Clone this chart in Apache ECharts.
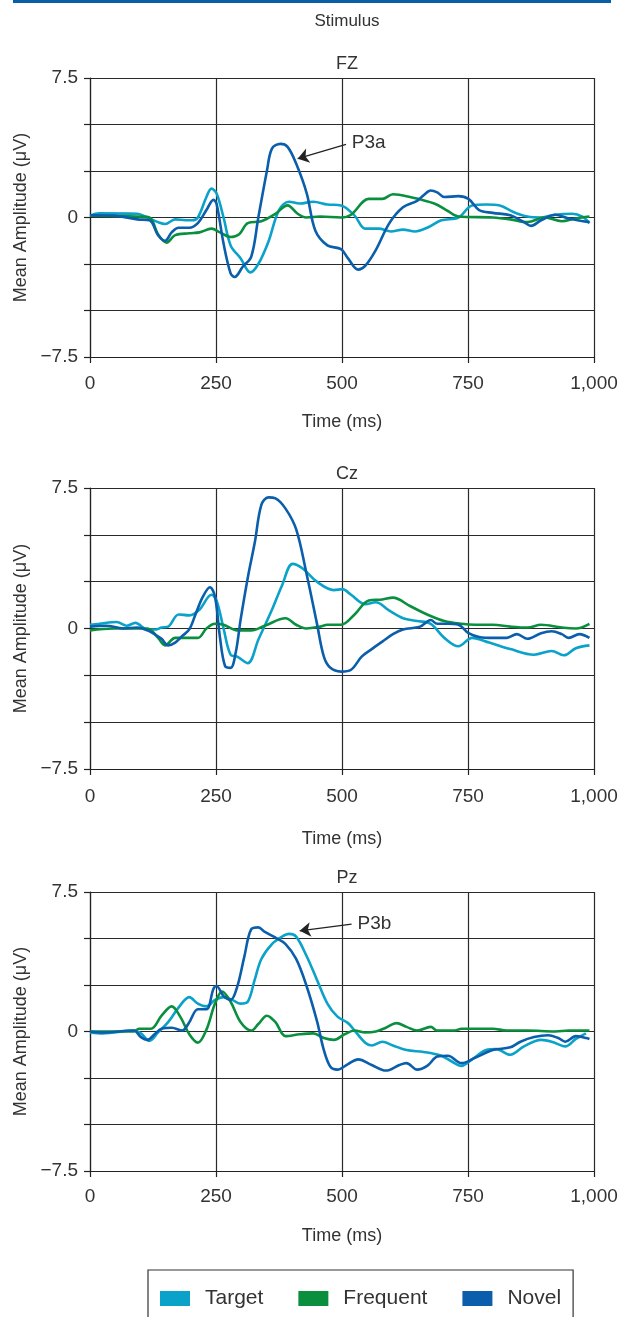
<!DOCTYPE html>
<html>
<head>
<meta charset="utf-8">
<script src="https://cdn.jsdelivr.net/npm/echarts@6/dist/echarts.min.js"></script>
<style>
html, body { margin: 0; padding: 0; background: #fff; }
#main { width: 622px; height: 1317px; }
</style>
</head>
<body>
<div id="main"></div>
<script>
var panels = ['FZ', 'Cz', 'Pz'];
var names = ['Target', 'Frequent', 'Novel'];
var colors = ['#0ba2ca', '#0a8f3f', '#0a5eab'];
var xTicks = [0, 250, 500, 750, 1000];
var yShown = [7.5, 0, -7.5];

// [ms, µV]
var fzTarget = [[0,0.1],[18,0.22],[94,0.2],[114,0],[135,-0.25],[149,-0.35],[169,-0.1],[190,-0.15],[203,-0.15],[214,0],[231,1.1],[241,1.55],[251,1.3],[265,0],[279,-1.5],[299,-2.2],[318,-2.95],[334,-2.5],[354,-1.3],[375,0.4],[395,0.85],[416,0.75],[443,0.85],[471,0.7],[498,0.65],[525,0.1],[546,-0.6],[573,-0.6],[597,-0.75],[621,-0.65],[645,-0.75],[669,-0.55],[697,-0.15],[731,0],[758,0.65],[786,0.7],[813,0.65],[840,0.3],[868,0.05],[895,0],[923,0.15],[957,0.2],[977,0.05],[991,-0.3]];
var fzFrequent = [[0,0.1],[94,0.05],[118,0],[135,-0.9],[152,-1.35],[169,-0.95],[197,-0.85],[217,-0.8],[241,-0.6],[258,-0.8],[279,-1.05],[296,-0.9],[313,-0.3],[340,-0.2],[368,0.2],[392,0.65],[412,0.2],[429,0],[457,0.05],[498,0],[518,0.15],[553,1.0],[580,1.0],[601,1.25],[635,1.1],[683,0.75],[710,0.35],[731,0.05],[799,0],[834,-0.1],[868,-0.25],[902,0],[936,-0.2],[963,-0.05],[991,0.05]];
var fzNovel = [[0,0.12],[46,0.1],[94,-0.1],[118,-0.15],[135,-0.95],[149,-1.25],[162,-0.8],[176,-0.55],[197,-0.55],[214,-0.3],[231,0.4],[245,0.95],[251,0.75],[265,-1.4],[279,-3.0],[287,-3.2],[303,-2.65],[320,-2.1],[334,0],[351,2.5],[361,3.7],[378,3.96],[392,3.8],[409,2.9],[430,1.3],[447,-0.7],[471,-1.5],[498,-1.7],[512,-2.2],[532,-2.8],[546,-2.6],[567,-1.75],[594,-0.3],[621,0.55],[649,0.9],[662,1.2],[676,1.45],[689,1.35],[703,1.1],[731,1.15],[751,1.0],[772,0.4],[799,0.25],[834,0.12],[861,-0.25],[875,-0.45],[895,-0.15],[923,0.15],[950,-0.05],[991,-0.25]];

var czTarget = [[0,0.2],[18,0.25],[53,0.35],[73,0.15],[90,0.3],[114,-0.05],[132,-0.05],[142,0.05],[155,0.1],[176,0.75],[197,0.7],[217,1.0],[241,1.8],[251,1.5],[265,0],[279,-1.4],[292,-1.5],[313,-1.85],[334,-0.6],[361,1.0],[381,2.3],[402,3.45],[422,3.2],[450,2.5],[484,2.05],[501,2.1],[518,1.8],[546,1.3],[567,1.4],[594,0.95],[621,0.55],[649,0.4],[676,0.25],[703,-0.5],[731,-0.95],[758,-0.5],[792,-0.75],[834,-1.1],[881,-1.4],[916,-1.2],[940,-1.43],[964,-1.05],[991,-0.9]];
var czFrequent = [[0,-0.1],[46,0],[114,0],[135,-0.5],[149,-0.9],[169,-0.5],[190,-0.5],[214,-0.5],[231,0],[248,0.25],[265,0.2],[292,-0.1],[320,-0.1],[347,0.15],[388,0.55],[409,0.2],[429,0],[457,0.1],[471,0.2],[498,0.2],[525,0.75],[553,1.5],[580,1.55],[601,1.65],[635,1.2],[669,0.75],[703,0.4],[737,0.25],[765,0.2],[799,0.2],[834,0.1],[868,0.05],[895,0.2],[936,0.05],[964,0],[991,0.25]];
var czNovel = [[0,0.1],[32,0.15],[66,0],[94,0.05],[114,-0.1],[128,-0.3],[142,-0.55],[155,-0.9],[169,-0.75],[183,-0.4],[197,-0.05],[210,0.8],[224,1.7],[238,2.2],[248,1.7],[258,-0.5],[268,-2.0],[279,-2.1],[289,-1.3],[299,0.5],[313,2.7],[327,4.6],[340,6.6],[354,7.0],[368,6.95],[388,6.4],[409,5.3],[429,3.0],[450,0.3],[464,-1.5],[477,-2.1],[498,-2.3],[518,-2.2],[539,-1.5],[559,-1.1],[580,-0.7],[601,-0.3],[621,-0.05],[655,0.1],[676,0.45],[689,0.25],[710,0.25],[731,0.2],[751,-0.25],[772,-0.45],[799,-0.5],[827,-0.5],[847,-0.3],[868,-0.55],[895,-0.25],[916,-0.15],[936,-0.3],[950,-0.5],[971,-0.3],[991,-0.5]];

var pzTarget = [[0,-0.05],[25,-0.1],[87,0.05],[101,-0.1],[118,-0.5],[135,-0.05],[155,0.5],[176,1.3],[197,1.85],[214,1.5],[231,1.35],[248,1.7],[265,1.85],[282,1.7],[299,1.5],[313,1.6],[327,2.8],[340,3.9],[361,4.7],[381,5.1],[395,5.25],[409,5.1],[429,4.1],[450,2.8],[471,1.5],[491,0.8],[512,0.45],[525,0.05],[546,-0.6],[559,-0.75],[580,-0.55],[601,-0.75],[628,-1.0],[662,-1.1],[697,-1.3],[717,-1.6],[737,-1.85],[758,-1.5],[786,-1.0],[806,-0.95],[834,-1.25],[861,-0.8],[895,-0.45],[916,-0.55],[943,-0.8],[964,-0.4],[984,-0.1]];
var pzFrequent = [[0,0],[87,0],[97,0.15],[121,0.15],[142,0.85],[162,1.35],[179,0.8],[197,-0.15],[214,-0.6],[231,0.1],[248,1.5],[262,2.15],[279,1.6],[299,0.5],[320,0.05],[334,0.4],[351,0.85],[368,0.5],[388,-0.25],[416,-0.15],[443,-0.1],[464,-0.35],[484,-0.45],[505,-0.15],[525,0.05],[546,-0.05],[567,0],[587,0.2],[608,0.45],[628,0.25],[649,0.05],[676,0.25],[689,0.05],[724,0.05],[737,0.15],[799,0.15],[827,0.05],[868,0.05],[923,0],[950,0.05],[991,0.05]];
var pzNovel = [[0,0],[25,-0.05],[87,0.05],[101,-0.3],[114,-0.45],[128,-0.15],[142,0.15],[162,0.2],[183,0.05],[197,0.5],[214,1.2],[231,1.2],[245,2.3],[251,2.45],[265,1.9],[279,1.7],[292,2.4],[306,4.0],[320,5.5],[334,5.6],[347,5.35],[368,5.05],[388,4.7],[409,3.9],[429,2.5],[450,0.6],[464,-1.0],[477,-1.9],[491,-2.05],[512,-1.75],[532,-1.5],[559,-1.8],[587,-2.1],[614,-1.8],[628,-1.7],[649,-2.05],[669,-1.85],[689,-1.35],[710,-1.3],[737,-1.7],[765,-1.4],[799,-1.0],[834,-0.85],[854,-0.55],[881,-0.3],[909,-0.2],[929,-0.35],[943,-0.55],[964,-0.25],[984,-0.35],[991,-0.4]];

var panelData = [
    [fzTarget, fzFrequent, fzNovel],
    [czTarget, czFrequent, czNovel],
    [pzTarget, pzFrequent, pzNovel]
];

// arrow annotations: [label, from, to] in data units (panel index -> arrow)
var arrows = {
    0: ['P3a', [508, 3.93], [412, 3.16]],
    2: ['P3b', [519, 5.77], [416, 5.41]]
};

var font = 'Liberation Sans, Arial, sans-serif';
var ink = '#333';
var gridTops = [78, 488, 892];
var gridHeights = [279, 281, 279];
var nameGaps = [56, 61, 56];
var labelMargins = [17, 18, 16];

var grids = [], xAxes = [], yAxes = [], series = [], titles = [];

titles.push({
    text: 'Stimulus', left: 342, top: 8, textAlign: 'center',
    textStyle: { fontFamily: font, fontSize: 17, fontWeight: 'normal', color: ink }
});

for (var i = 0; i < panels.length; i++) {
    grids.push({ left: 90, right: 28, top: gridTops[i], height: gridHeights[i] });
    titles.push({
        text: panels[i], left: 342, top: gridTops[i] - 28, textAlign: 'center',
        textStyle: { fontFamily: font, fontSize: 18, fontWeight: 'normal', color: ink }
    });
    xAxes.push({
        type: 'value', gridIndex: i, min: 0, max: 1000, interval: 250,
        name: 'Time (ms)', nameLocation: 'middle', nameGap: nameGaps[i],
        nameTextStyle: { fontFamily: font, fontSize: 18, color: ink },
        axisLine: { show: true, onZero: false, lineStyle: { color: '#222', width: 1.2 } },
        axisTick: { show: true, length: 6, lineStyle: { color: '#222', width: 1.2 } },
        splitLine: { show: true, lineStyle: { color: '#2a2a2a', width: 1.2 } },
        axisLabel: {
            fontFamily: font, fontSize: 19, color: ink, margin: labelMargins[i],
            formatter: function (v) { return v >= 1000 ? '1,000' : String(v); }
        }
    });
    yAxes.push({
        type: 'value', gridIndex: i, min: -7.5, max: 7.5, interval: 2.5,
        name: 'Mean Amplitude (\u03bcV)', nameLocation: 'middle', nameGap: 50, nameRotate: 90,
        nameTextStyle: { fontFamily: font, fontSize: 18, color: ink },
        axisLine: { show: true, onZero: false, lineStyle: { color: '#222', width: 1.2 } },
        axisTick: { show: true, length: 6, lineStyle: { color: '#222', width: 1.2 } },
        splitLine: { show: true, lineStyle: { color: '#2a2a2a', width: 1.2 } },
        axisLabel: {
            fontFamily: font, fontSize: 19, color: ink, margin: 12,
            formatter: function (v) {
                if (yShown.indexOf(v) < 0) return '';
                return v < 0 ? '\u2212' + Math.abs(v) : String(v);
            }
        }
    });
    for (var s = 0; s < names.length; s++) {
        var ser = {
            name: names[s], type: 'line', xAxisIndex: i, yAxisIndex: i,
            data: panelData[i][s], smooth: 0.35, showSymbol: false, symbol: 'none',
            lineStyle: { color: colors[s], width: 2.6 },
            itemStyle: { color: colors[s] },
            z: 3 + s
        };
        if (s === 2 && arrows[i]) {
            var a = arrows[i];
            ser.markLine = {
                silent: true, animation: false,
                symbol: ['none', 'arrow'], symbolSize: 11,
                lineStyle: { color: '#222', width: 1.3, type: 'solid' },
                label: {
                    show: true, position: 'start', distance: 6, formatter: a[0],
                    fontFamily: font, fontSize: 19, color: ink
                },
                data: [[{ coord: a[1] }, { coord: a[2] }]]
            };
        }
        series.push(ser);
    }
}

var myChart = echarts.init(document.getElementById('main'));
var option = {
    animation: false,
    backgroundColor: '#fff',
    title: titles,
    grid: grids,
    xAxis: xAxes,
    yAxis: yAxes,
    legend: {
        data: names, left: 148, top: 1270,
        icon: 'rect', itemWidth: 30, itemHeight: 15, itemGap: 35,
        padding: [18, 12, 30, 12],
        borderColor: '#333', borderWidth: 1.2,
        textStyle: { fontFamily: font, fontSize: 21, color: ink, padding: [0, 0, 0, 10] }
    },
    graphic: [{
        type: 'rect', left: 13, top: 0,
        shape: { width: 598, height: 3 },
        style: { fill: '#0a5ea8' }
    }],
    series: series
};
myChart.setOption(option);
</script>
</body>
</html>
